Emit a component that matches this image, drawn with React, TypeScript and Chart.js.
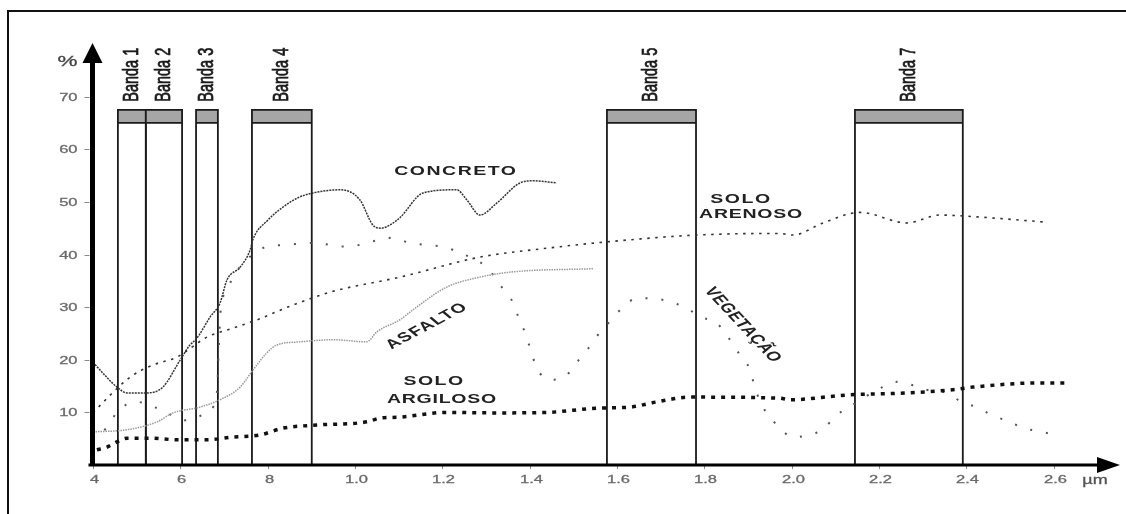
import React, { useEffect, useRef } from 'react';
import { Chart, registerables } from 'chart.js';

Chart.register(...registerables);

// ---- data (wavelength in µm, reflectance in %) ----
const concretoX = [0.40, 0.41, 0.455, 0.478, 0.524, 0.56, 0.60, 0.622, 0.638, 0.668, 0.691, 0.707, 0.737, 0.76, 0.766, 0.80, 0.835, 0.87, 0.904, 0.966, 1.011, 1.041, 1.06, 1.08, 1.103, 1.156, 1.233, 1.256, 1.286, 1.325, 1.378, 1.408, 1.462];
const concretoY = [19.5, 18.6, 14.8, 13.7, 13.7, 14.8, 20, 22.8, 24.1, 28.1, 30.8, 35.2, 37.6, 40.9, 42.8, 46.5, 49, 50.8, 51.7, 52.3, 50.4, 45.6, 45, 45.6, 47, 51.7, 52.3, 50.4, 47.5, 49.8, 53.6, 54, 53.6];

const arenosoX = [0.40, 0.485, 0.537, 0.592, 0.661, 0.72, 0.776, 0.858, 0.95, 1.103, 1.286, 1.44, 1.577, 1.783, 1.973, 2.003, 2.072, 2.156, 2.264, 2.34, 2.415, 2.575];
const arenosoY = [10, 16.7, 19, 20.5, 24.3, 26, 27.6, 30.4, 33, 35.7, 39.5, 41.2, 42.4, 43.7, 44, 43.7, 46, 48, 46, 47.5, 47.2, 46.2];

const asfaltoX = [0.40, 0.478, 0.547, 0.583, 0.645, 0.691, 0.737, 0.766, 0.798, 0.821, 0.874, 0.95, 1.027, 1.05, 1.103, 1.133, 1.21, 1.286, 1.362, 1.545];
const asfaltoY = [6.3, 6.7, 8.2, 9.9, 11, 12.4, 14.8, 18, 21.3, 22.8, 23.4, 23.8, 23.4, 25.3, 27.6, 29.5, 33.8, 35.7, 36.7, 37.3];

const vegetacaoX = [0.40, 0.43, 0.46, 0.50, 0.54, 0.58, 0.61, 0.65, 0.675, 0.684, 0.688, 0.692, 0.705, 0.72, 0.736, 0.798, 0.835, 0.903, 0.981, 1.057, 1.087, 1.125, 1.164, 1.199, 1.235, 1.304, 1.324, 1.343, 1.361, 1.37, 1.384, 1.40, 1.416, 1.446, 1.48, 1.503, 1.526, 1.544, 1.565, 1.588, 1.611, 1.647, 1.681, 1.72, 1.755, 1.793, 1.828, 1.851, 1.885, 1.903, 1.919, 1.942, 1.967, 2.002, 2.041, 2.075, 2.098, 2.139, 2.208, 2.242, 2.276, 2.308, 2.354, 2.389, 2.423, 2.459, 2.498, 2.533, 2.572, 2.606];
const vegetacaoY = [4.5, 7, 10.5, 12, 11, 9.5, 8.5, 9.5, 11, 14, 22, 29, 33, 35.5, 37.6, 41.5, 41.8, 42.2, 41.5, 42.8, 43.2, 42.2, 41.8, 41.5, 40.5, 37.4, 35.2, 33, 31, 29, 26.3, 22.5, 18.5, 16.2, 16.7, 19, 21.3, 23.2, 25.7, 27.6, 29.8, 31.7, 31.7, 31, 30, 28.1, 27, 24.7, 20.5, 18.4, 13.9, 9.9, 7.6, 5.3, 5.7, 7, 9.1, 11.4, 14.8, 15.8, 15.2, 14.3, 13.7, 12, 11, 9.5, 8.2, 7, 6.3, 5.7];

const argilosoX = [0.409, 0.432, 0.455, 0.478, 0.531, 0.592, 0.661, 0.72, 0.782, 0.835, 0.913, 1.027, 1.057, 1.103, 1.21, 1.325, 1.44, 1.554, 1.63, 1.692, 1.767, 1.973, 1.996, 2.127, 2.264, 2.369, 2.415, 2.568, 2.637];
const argilosoY = [2.9, 3.4, 4.4, 5.1, 5.1, 4.8, 4.8, 5.3, 5.7, 7, 7.6, 8.2, 8.9, 9.1, 10, 9.9, 10, 10.8, 11, 12, 12.9, 12.7, 12.4, 13.3, 13.7, 14.3, 14.8, 15.6, 15.6];

const bandNames = ['Banda 1', 'Banda 2', 'Banda 3', 'Banda 4', 'Banda 5', 'Banda 7'];
const bandStart = [0.457, 0.521, 0.636, 0.764, 1.577, 2.145];
const bandEnd = [0.521, 0.604, 0.686, 0.901, 1.781, 2.392];
const bandTop = 67.5;
const bandStripBottom = 65;

const yTicks = [10, 20, 30, 40, 50, 60, 70];
const xTicks = [0.4, 0.6, 0.8, 1.0, 1.2, 1.4, 1.6, 1.8, 2.0, 2.2, 2.4, 2.6];
const xTickLabels = ['4', '6', '8', '1.0', '1.2', '1.4', '1.6', '1.8', '2.0', '2.2', '2.4', '2.6'];

const X_MIN = 0.4;
const X_MAX = 2.752;
const Y_MIN = 0;
const Y_MAX = 80;

const SX = 1.5; // horizontal stretch of the original picture's lettering

function stretchText(
  ctx: CanvasRenderingContext2D,
  text: string,
  x: number,
  y: number,
  font: string,
  color: string,
  align: CanvasTextAlign,
  angle = 0,
  spacing = '0px',
  stroke = 0
) {
  ctx.save();
  ctx.translate(x, y);
  ctx.scale(SX, 1);
  ctx.rotate(angle);
  ctx.font = font;
  (ctx as any).letterSpacing = spacing;
  ctx.fillStyle = color;
  ctx.textAlign = align;
  ctx.textBaseline = 'middle';
  ctx.fillText(text, 0, 0);
  if (stroke > 0) {
    ctx.strokeStyle = color;
    ctx.lineWidth = stroke;
    ctx.strokeText(text, 0, 0);
  }
  ctx.restore();
}

const LABEL_FONT = 'bold 13px "Liberation Sans", Arial, sans-serif';

const decorPlugin = {
  id: 'decor',
  beforeDatasetsDraw(chart: any) {
    const ctx: CanvasRenderingContext2D = chart.ctx;
    const xs = chart.scales.x;
    const ys = chart.scales.y;
    const y0 = ys.getPixelForValue(0);
    const yTop = ys.getPixelForValue(bandTop);
    const yStrip = ys.getPixelForValue(bandStripBottom);
    ctx.save();
    bandNames.forEach((name, i) => {
      const xa = xs.getPixelForValue(bandStart[i]);
      const xb = xs.getPixelForValue(bandEnd[i]);
      ctx.fillStyle = '#a6a6a6';
      ctx.fillRect(xa, yTop, xb - xa, yStrip - yTop);
      ctx.strokeStyle = '#1a1a1a';
      ctx.lineWidth = 1.8;
      ctx.beginPath();
      ctx.moveTo(xa, y0);
      ctx.lineTo(xa, yTop);
      ctx.lineTo(xb, yTop);
      ctx.lineTo(xb, y0);
      ctx.moveTo(xa, yStrip);
      ctx.lineTo(xb, yStrip);
      ctx.stroke();
      stretchText(ctx, name, (xa + xb) / 2, yTop - 8, '14.5px "Liberation Sans", Arial, sans-serif', '#1a1a1a', 'left', -Math.PI / 2, '0px', 0.5);
    });
    ctx.restore();
  },
  afterDatasetsDraw(chart: any) {
    const ctx: CanvasRenderingContext2D = chart.ctx;
    const xs = chart.scales.x;
    const ys = chart.scales.y;
    const ax = xs.getPixelForValue(X_MIN) - 0.5;
    const ay = ys.getPixelForValue(0);
    const topY = ys.getPixelForValue(Y_MAX);
    const rightX = xs.getPixelForValue(X_MAX);
    ctx.save();
    // tick marks and labels
    ctx.strokeStyle = '#888';
    ctx.lineWidth = 1;
    yTicks.forEach((v) => {
      const py = Math.round(ys.getPixelForValue(v)) + 0.5;
      ctx.beginPath();
      ctx.moveTo(ax - 8, py);
      ctx.lineTo(ax - 3, py);
      ctx.stroke();
      stretchText(ctx, String(v), ax - 15, py, '11px "Liberation Sans", Arial, sans-serif', '#6a6a6a', 'right', 0, '0px', 0.3);
    });
    xTicks.forEach((v, i) => {
      const px = Math.round(xs.getPixelForValue(v)) + 0.5;
      ctx.beginPath();
      ctx.moveTo(px, ay);
      ctx.lineTo(px, ay + 4);
      ctx.stroke();
      stretchText(ctx, xTickLabels[i], px + 1, ay + 15, '11px "Liberation Sans", Arial, sans-serif', '#6a6a6a', 'center', 0, '0px', 0.3);
    });
    // x axis
    ctx.strokeStyle = '#000';
    ctx.fillStyle = '#000';
    ctx.lineWidth = 3;
    ctx.beginPath();
    ctx.moveTo(ax - 4, ay);
    ctx.lineTo(rightX - 18, ay);
    ctx.stroke();
    ctx.beginPath();
    ctx.moveTo(rightX, ay);
    ctx.lineTo(rightX - 23, ay - 8);
    ctx.lineTo(rightX - 23, ay + 8);
    ctx.closePath();
    ctx.fill();
    // y axis
    ctx.lineWidth = 5;
    ctx.beginPath();
    ctx.moveTo(ax, ay + 1);
    ctx.lineTo(ax, topY + 15);
    ctx.stroke();
    ctx.beginPath();
    ctx.moveTo(ax, topY - 1);
    ctx.lineTo(ax - 10, topY + 19);
    ctx.lineTo(ax + 10, topY + 19);
    ctx.closePath();
    ctx.fill();
    // axis units
    stretchText(ctx, '%', ax - 25, topY + 18, '15px "Liberation Sans", Arial, sans-serif', '#444', 'center', 0, '0px', 0.3);
    stretchText(ctx, 'µm', rightX - 25, ay + 16, '12px "Liberation Sans", Arial, sans-serif', '#555', 'center', 0, '0px', 0.3);

    // curve labels
    const P = (x: number, y: number) => [xs.getPixelForValue(x), ys.getPixelForValue(y)];
    let p = P(1.231, 55.7);
    stretchText(ctx, 'CONCRETO', p[0], p[1], LABEL_FONT, '#222', 'center', 0, '1px');
    p = P(1.884, 50.4);
    stretchText(ctx, 'SOLO', p[0], p[1], LABEL_FONT, '#222', 'center', 0, '1px');
    p = P(1.907, 47.7);
    stretchText(ctx, 'ARENOSO', p[0], p[1], LABEL_FONT, '#222', 'center', 0, '0.5px');
    p = P(1.165, 26.4);
    stretchText(ctx, 'ASFALTO', p[0], p[1], LABEL_FONT, '#222', 'center', (-38.6 * Math.PI) / 180, '1px');
    p = P(1.888, 26.6);
    stretchText(ctx, 'VEGETAÇÃO', p[0], p[1], LABEL_FONT, '#222', 'center', (57.8 * Math.PI) / 180, '0.5px');
    p = P(1.181, 15.8);
    stretchText(ctx, 'SOLO', p[0], p[1], LABEL_FONT, '#222', 'center', 0, '1px');
    p = P(1.199, 12.4);
    stretchText(ctx, 'ARGILOSO', p[0], p[1], LABEL_FONT, '#222', 'center', 0, '0.5px');
    ctx.restore();
  },
  afterDraw(chart: any) {
    const ctx: CanvasRenderingContext2D = chart.ctx;
    ctx.save();
    ctx.strokeStyle = '#111';
    ctx.lineWidth = 2;
    ctx.beginPath();
    ctx.moveTo(8, chart.height);
    ctx.lineTo(8, 11);
    ctx.lineTo(chart.width, 11);
    ctx.stroke();
    ctx.restore();
  },
};

function series(label: string, xs: number[], ys: number[], style: any) {
  return {
    label,
    data: xs.map((x, i) => ({ x, y: ys[i] })),
    pointRadius: 0,
    fill: false,
    cubicInterpolationMode: 'monotone',
    borderCapStyle: 'butt',
    ...style,
  };
}

export default function App() {
  const ref = useRef<HTMLCanvasElement | null>(null);

  useEffect(() => {
    if (!ref.current) return;
    const chart = new Chart(ref.current, {
      type: 'line',
      data: {
        datasets: [
          series('SOLO ARGILOSO', argilosoX, argilosoY, { borderColor: '#111', borderWidth: 3.5, borderDash: [4, 6] }),
          series('ASFALTO', asfaltoX, asfaltoY, { borderColor: '#9a9a9a', borderWidth: 1.5, borderDash: [1.5, 1] }),
          series('SOLO ARENOSO', arenosoX, arenosoY, { borderColor: '#333', borderWidth: 1.6, borderDash: [2.5, 5.5] }),
          series('VEGETAÇÃO', vegetacaoX, vegetacaoY, { borderColor: '#555', borderWidth: 2, borderDash: [2, 14] }),
          series('CONCRETO', concretoX, concretoY, { borderColor: '#333', borderWidth: 1.5, borderDash: [2, 1] }),
        ] as any,
      },
      options: {
        animation: false,
        responsive: false,
        events: [],
        layout: { padding: { left: 0, top: 44, right: 6, bottom: 0 } },
        plugins: { legend: { display: false }, tooltip: { enabled: false } },
        scales: {
          x: {
            type: 'linear',
            min: X_MIN,
            max: X_MAX,
            grid: { display: false },
            border: { display: false },
            ticks: { display: false },
            afterBuildTicks: (s: any) => {
              s.ticks = xTicks.map((v) => ({ value: v }));
            },
            afterFit: (s: any) => {
              s.height = 49;
            },
          },
          y: {
            type: 'linear',
            min: Y_MIN,
            max: Y_MAX,
            grid: { display: false },
            border: { display: false },
            ticks: { display: false },
            afterBuildTicks: (s: any) => {
              s.ticks = yTicks.map((v) => ({ value: v }));
            },
            afterFit: (s: any) => {
              s.width = 93;
            },
          },
        },
      } as any,
      plugins: [decorPlugin],
    });
    return () => chart.destroy();
  }, []);

  return (
    <div style={{ position: 'absolute', left: 0, top: 0, width: 1126, height: 514, background: '#fff' }}>
      <canvas ref={ref} width={1126} height={514} style={{ display: 'block' }} />
    </div>
  );
}
